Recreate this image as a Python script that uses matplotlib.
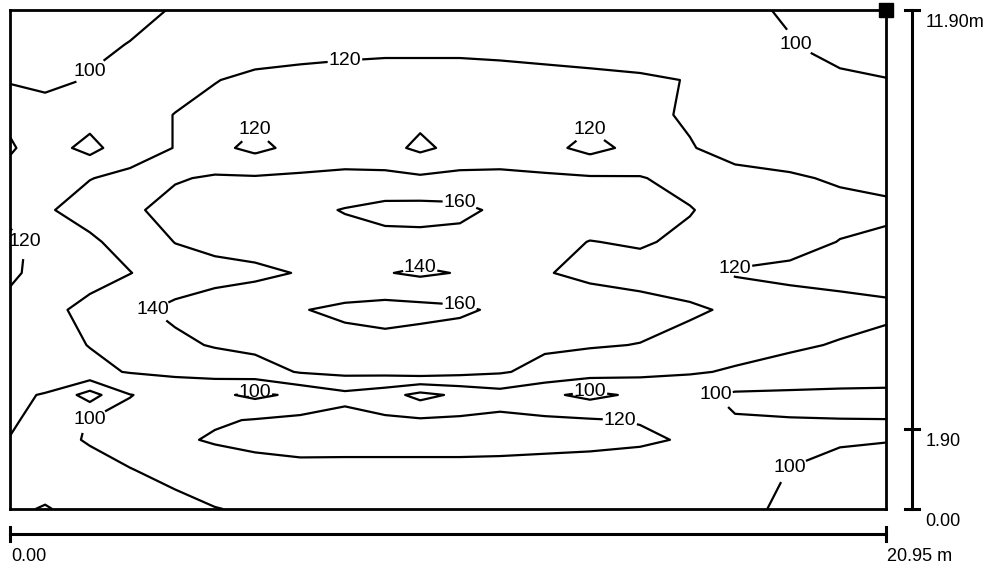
import numpy as np
import matplotlib
matplotlib.use("Agg")
import matplotlib.pyplot as plt
from matplotlib.transforms import blended_transform_factory

plt.rcParams["font.family"] = ["Liberation Sans", "DejaVu Sans"]

# room size (m)
room_w = 20.95
room_h = 11.90

x_m = [0.00, 0.84, 1.91, 2.87, 3.95, 4.90, 5.86, 6.94, 8.01, 8.97, 9.81,
       10.76, 11.72, 12.79, 13.87, 15.07, 16.26, 17.34, 18.65, 19.85, 20.95]
# rows listed from the top wall down to the bottom wall
y_m = [11.90, 11.07, 10.23, 9.40, 8.61, 7.89, 7.13, 6.37, 5.63, 4.75,
       3.91, 3.27, 2.72, 2.12, 1.65, 0.93, 0.00]

lux = [
    [85, 88, 92, 96, 101, 104, 106, 107, 108, 108, 108, 108, 108, 107, 106, 105, 104, 102, 99, 95, 92],
    [88, 92, 97, 100.5, 106, 110, 113, 115, 116, 117, 117, 117, 116, 115, 114, 112, 108, 104, 100.5, 96, 93],
    [99.5, 96, 101, 106, 113, 119.5, 123, 124, 125, 125, 125, 125, 125, 124, 123, 122, 119.5, 113, 108, 102, 100.5],
    [104, 107, 108, 112, 120.5, 124, 124, 126, 127, 126, 125, 126, 127, 126, 125, 124, 118, 114, 110, 107, 105],
    [98, 109, 94, 112, 120.5, 125, 115, 126, 128, 126, 116, 126, 128, 126, 114, 126, 121, 114, 112, 110, 108],
    [106, 112, 119.5, 124, 138.5, 142, 142, 143, 145, 145, 143, 145, 145, 143, 142, 141, 134, 125, 122, 118, 116],
    [116, 118, 127, 137, 146, 150, 152, 155, 161, 166, 167, 165, 156, 153, 151, 148, 141, 132, 128, 125, 123],
    [123, 116, 117, 127, 140.5, 146, 148, 150, 153, 154, 154, 153, 151, 146, 139.5, 142, 136, 131, 126, 119.5, 117],
    [123, 114, 116, 119.5, 130, 133, 136, 141, 143, 141, 137, 141, 143, 141, 136, 133, 129, 118, 116, 115, 114],
    [115, 117, 123, 136, 144, 150, 153, 159, 164, 167, 166, 163, 157, 153, 150, 147, 143, 137, 128, 125, 123],
    [110, 114, 120.5, 127, 136, 141.5, 145, 151, 153, 154, 151, 150, 146, 143, 141.5, 139.5, 133, 127, 122, 119, 116],
    [108, 110, 116, 121, 124, 127, 131, 141.5, 145, 146, 150, 146, 142, 134, 129, 125, 122, 118, 115, 113, 111],
    [103, 99, 72, 99.5, 106, 104, 96, 104, 115, 108, 94, 104, 112, 104, 95, 104, 104, 97, 96, 95, 95],
    [102, 95, 100.5, 104, 112, 118, 121, 124, 126, 123, 122, 123, 124, 123, 121.5, 119, 112, 101, 100.5, 100.3, 100.2],
    [99.5, 96, 101, 106, 117, 122, 125, 127, 128, 128, 128, 128, 127, 126, 125, 123, 118, 107, 102, 101, 100.5],
    [90, 92, 96, 99.5, 104, 109, 113, 115, 114, 114, 114, 114, 114, 113, 112, 110, 108, 104, 99.8, 97, 95],
    [84, 78.5, 88, 92, 96, 99.5, 102, 104, 105, 105, 105, 105, 105, 104, 104, 103, 102, 101, 99.3, 94, 91],
]
levels = [80, 100, 120, 140, 160]

x = np.array(x_m)
y = np.array(y_m)[::-1]
z = np.flipud(np.array(lux))

fig = plt.figure(figsize=(9.93, 5.72), dpi=100)
ax = fig.add_axes([10 / 993, 63 / 572, 876 / 993, 499 / 572])
ax.set_xlim(0, room_w)
ax.set_ylim(0, room_h)
ax.set_xticks([])
ax.set_yticks([])
for sp in ax.spines.values():
    sp.set_linewidth(2)

cs = ax.contour(x, y, z, levels=levels, colors="k", linewidths=1.6)
labels = ax.clabel(cs, fmt="%d", fontsize=14, inline=True, inline_spacing=1)
for t in labels:
    t.set_rotation(0)

# marker at the top-right corner
ax.plot(room_w, room_h, "s", color="k", markersize=10, clip_on=False)

# vertical scale bar on the right
tv = blended_transform_factory(ax.transAxes, ax.transData)
bx = 1.0297
ax.plot([bx, bx], [0, room_h], color="k", lw=2.2, transform=tv, clip_on=False)
for yt, lab in [(0, "0.00"), (1.90, "1.90"), (room_h, "11.90m")]:
    ax.plot([bx - 0.008, bx + 0.008], [yt, yt], color="k", lw=2.2,
            transform=tv, clip_on=False)
    ax.annotate(lab, xy=(bx + 0.015, yt), xycoords=tv, xytext=(0, -3),
                textcoords="offset points", ha="left", va="top", fontsize=13)

# horizontal scale bar underneath
th = blended_transform_factory(ax.transData, ax.transAxes)
by = -0.050
ax.plot([0, room_w], [by, by], color="k", lw=2.2, transform=th, clip_on=False)
for xt, lab in [(0, "0.00"), (room_w, "20.95 m")]:
    ax.plot([xt, xt], [by - 0.014, by + 0.014], color="k", lw=2.2,
            transform=th, clip_on=False)
    ax.annotate(lab, xy=(xt, by - 0.028), xycoords=th, xytext=(1, 0),
                textcoords="offset points", ha="left", va="top", fontsize=13)

fig.savefig("out.png", dpi=100)
